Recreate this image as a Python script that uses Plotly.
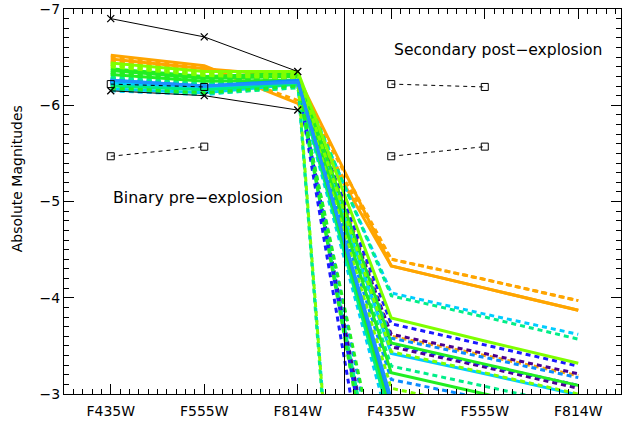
import plotly.graph_objects as go

# ---------------- data ----------------
filters = ["F435W", "F555W", "F814W", "F435W", "F555W", "F814W"]
x_pos = [1, 2, 3, 4, 5, 6]

# black observed limits (crosses): pre-explosion F435W, F555W, F814W
cross_upper = [-6.90, -6.71, -6.35]
cross_lower = [-6.15, -6.10, -5.95]
# squares (dashed): F435W, F555W
square_upper = [-6.22, -6.19]
square_lower = [-5.47, -5.57]

# model lines: pre-explosion (binary) and post-explosion (secondary) magnitudes
pre_435 = [-6.52, -6.50, -6.48, -6.46, -6.45,
           -6.44, -6.42, -6.40, -6.42,
           -6.38, -6.36, -6.34, -6.32, -6.18,
           -6.33, -6.30, -6.28, -6.20, -6.16,
           -6.27, -6.23, -6.22, -6.17, -6.15,
           -6.25, -6.22, -6.26, -6.21,
           -6.27, -6.25, -6.26, -6.24, -6.26,
           -6.25, -6.24, -6.23]
pre_555 = [-6.41, -6.40, -6.38, -6.36, -6.35,
           -6.35, -6.33, -6.31, -6.32,
           -6.30, -6.28, -6.26, -6.25, -6.13,
           -6.26, -6.24, -6.22, -6.16, -6.12,
           -6.21, -6.18, -6.17, -6.13, -6.11,
           -6.20, -6.18, -6.20, -6.16,
           -6.21, -6.20, -6.21, -6.19, -6.20,
           -6.20, -6.19, -6.18]
pre_814 = [-6.02, -6.05, -6.30, -6.33, -6.20,
           -6.35, -6.32, -6.28, -6.30,
           -6.33, -6.30, -6.28, -6.26, -6.20,
           -6.30, -6.27, -6.26, -6.22, -6.18,
           -6.28, -6.24, -6.24, -6.22, -6.20,
           -6.24, -6.22, -6.26, -6.21,
           -6.25, -6.22, -6.23, -6.22, -6.24,
           -6.22, -6.21, -6.23]
post_435 = [-4.33, -4.40, -4.33, -3.60, -4.40,
            -3.79, -3.44, -3.06, 6.20,
            -3.53, -3.22, -0.90, -2.80, -1.60,
            -4.02, -3.29, 6.40, -2.70, -1.20,
            -4.05, -3.42, 6.00, -2.85, -2.60,
            -3.58, -3.15, -2.90, -1.50,
            -3.73, -3.52, -1.00, -0.50, -2.95,
            -3.62, -3.49, -1.20]
post_555 = [-4.10, -4.19, -4.10, -3.40, -4.19,
            -3.55, -3.22, -2.85, 6.40,
            -3.31, -3.00, -0.70, -2.60, -1.40,
            -3.80, -3.08, 6.60, -2.50, -1.00,
            -3.83, -3.21, 6.20, -2.65, -2.40,
            -3.38, -2.95, -2.70, -1.30,
            -3.51, -3.30, -0.80, -0.30, -2.75,
            -3.42, -3.28, -1.00]
post_814 = [-3.87, -3.97, -3.87, -3.19, -3.97,
            -3.32, -3.00, -2.64, 6.60,
            -3.09, -2.78, -0.50, -2.40, -1.20,
            -3.57, -2.87, 6.80, -2.30, -0.80,
            -3.62, -2.99, 6.40, -2.45, -2.20,
            -3.17, -2.74, -2.50, -1.10,
            -3.29, -3.09, -0.60, -0.10, -2.55,
            -3.21, -3.06, -0.80]

# styles for the model lines
ORANGE, CHART, GREEN, SPRING, CYAN, LBLUE, BLUE, PURPLE = (
    "#ffa500", "#7fff00", "#22ee22", "#00ee88", "#00ccff", "#0a8cff", "#1a1aff", "#4b0090")
model_colors = [ORANGE] * 5 + [CHART] * 4 + [GREEN] * 5 + [SPRING] * 5 + [CYAN] * 5 + \
               [LBLUE] * 4 + [BLUE] * 4 + ["#1e90ff"] + [PURPLE] * 3
model_dash = ["solid", "dash", "solid", "dash", "dash",
              "solid", "dash", "dash", "dash",
              "solid", "solid", "dash", "solid", "dash",
              "dash", "dash", "dash", "solid", "dash",
              "dash", "solid", "dash", "solid", "dash",
              "dash", "dash", "solid", "dash",
              "dash", "dash", "dash", "dash", "solid",
              "dash", "dash", "dash"]
# drawing order (first = underneath)
draw_order = [0, 1, 2, 3, 4,
              33, 34, 35,
              28, 29, 30, 31,
              24, 25, 27,
              19, 20, 21, 22, 23,
              14, 15, 16, 17, 18,
              9, 10, 11, 12, 13,
              5, 6, 7, 8,
              26, 32]

DASH = "5px,4px"
FONT = "DejaVu Sans"

fig = go.Figure()

for i in draw_order:
    ys = [pre_435[i], pre_555[i], pre_814[i], post_435[i], post_555[i], post_814[i]]
    fig.add_trace(go.Scatter(
        x=x_pos, y=ys, mode="lines",
        line=dict(color=model_colors[i], width=3,
                  dash=DASH if model_dash[i] == "dash" else "solid"),
        showlegend=False, hoverinfo="skip"))

# black crosses
for ys in (cross_upper, cross_lower):
    fig.add_trace(go.Scatter(
        x=x_pos[:3], y=ys, mode="lines+markers",
        line=dict(color="black", width=1),
        marker=dict(symbol="x-thin-open", size=7, line=dict(color="black", width=1.3)),
        showlegend=False, hoverinfo="skip"))

# squares, pre and post
for xs in (x_pos[:2], x_pos[3:5]):
    for ys in (square_upper, square_lower):
        fig.add_trace(go.Scatter(
            x=xs, y=ys, mode="lines+markers",
            line=dict(color="black", width=1, dash="4px,4px"),
            marker=dict(symbol="square-open", size=7, color="black",
                        line=dict(color="black", width=1)),
            showlegend=False, hoverinfo="skip"))

# dividing vertical line
fig.add_shape(type="line", xref="x", yref="paper", x0=3.5, x1=3.5, y0=0, y1=1,
              line=dict(color="black", width=1))

fig.add_annotation(x=1, y=-5.04, xref="x", yref="y", text="Binary pre\u2212explosion",
                   showarrow=False, xanchor="left", yanchor="middle",
                   font=dict(family=FONT, size=15.8, color="black"))
fig.add_annotation(x=4.01, y=-6.57, xref="x", yref="y", text="Secondary post\u2212explosion",
                   showarrow=False, xanchor="left", yanchor="middle",
                   font=dict(family=FONT, size=15.6, color="black"))
fig.add_annotation(x=-0.0842, y=0.558, xref="paper", yref="paper", text="Absolute Magnitudes",
                   showarrow=False, textangle=-90, xanchor="center", yanchor="middle",
                   font=dict(family=FONT, size=14, color="black"))

axis_common = dict(showline=True, linecolor="black", linewidth=1, mirror="ticks",
                   ticks="inside", ticklen=10, tickwidth=1, tickcolor="black",
                   showgrid=False, zeroline=False, ticklabeloverflow="allow",
                   tickfont=dict(family=FONT, size=14, color="black"))

fig.update_xaxes(range=[0.5, 6.457], tickmode="array", tickvals=x_pos, ticktext=filters,
                 minor=dict(ticks="inside", ticklen=5, tickwidth=1, tickcolor="black",
                            dtick=0.1, tick0=0, showgrid=False),
                 ticklabelstandoff=4, **axis_common)
fig.update_yaxes(range=[-3, -7], tickmode="array", tickvals=[-7, -6, -5, -4, -3],
                 minor=dict(ticks="inside", ticklen=5, tickwidth=1, tickcolor="black",
                            dtick=0.1, tick0=0, showgrid=False),
                 ticklabelstandoff=0, **axis_common)

fig.update_layout(width=623, height=426, margin=dict(l=64, r=1, t=5, b=32),
                  paper_bgcolor="white", plot_bgcolor="white")

fig.write_html("out.html", config={"displayModeBar": False},
               post_script="document.body.style.margin='0';document.body.style.overflow='hidden';")
